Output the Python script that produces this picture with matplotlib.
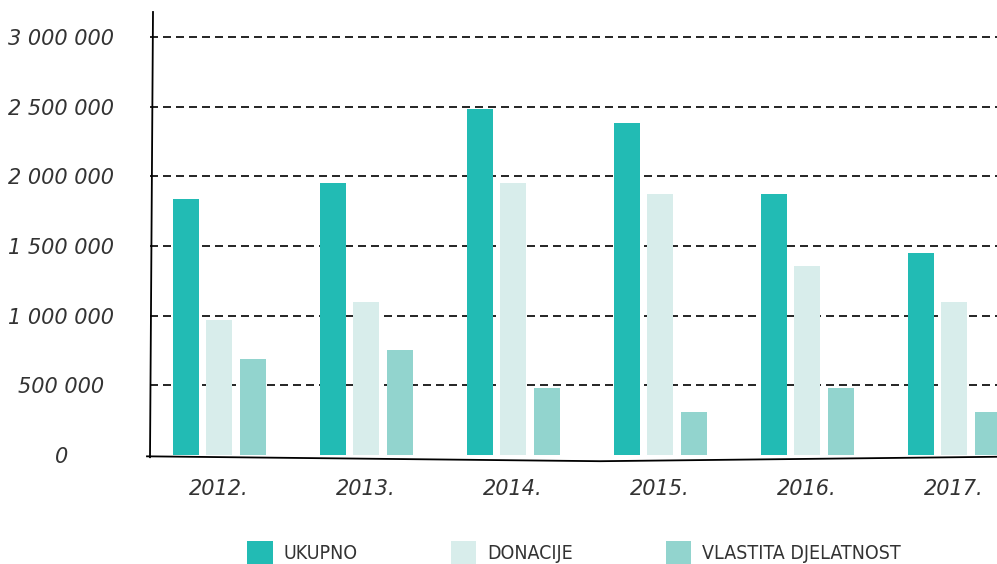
import numpy as np
import matplotlib; matplotlib.use("Agg"); import matplotlib.pyplot as plt
from matplotlib.patches import Patch

years = ["2012.", "2013.", "2014.", "2015.", "2016.", "2017."]
ukupno = [1838000, 1953000, 2484000, 2383000, 1874000, 1450000]
donacije = [969000, 1098000, 1953000, 1874000, 1357000, 1098000]
vlastita = [689000, 754000, 481000, 309000, 481000, 309000]
series_names = ["UKUPNO", "DONACIJE", "VLASTITA DJELATNOST"]
colors = ["#22bbb4", "#d8edeb", "#92d4ce"]
yticks = [0, 500000, 1000000, 1500000, 2000000, 2500000, 3000000]
ytick_labels = ["0", "500 000", "1 000 000", "1 500 000", "2 000 000", "2 500 000", "3 000 000"]

W, H = 997, 564
fig = plt.figure(figsize=(W/100, H/100), dpi=100)
ax = fig.add_axes([150/W, 1-455/H, 1-150/W, (455-12)/H])

x = np.arange(len(years))
bw, step = 26/147, 33.5/147
for k, (vals, c) in enumerate(zip([ukupno, donacije, vlastita], colors)):
    ax.bar(x + (k-1)*step, vals, width=bw, color=c, zorder=3)

ax.set_xlim((150-219)/147, (997-219)/147)
ax.set_ylim(0, (455-12)/139.3*1e6)
ax.set_yticks(yticks)
ax.set_yticklabels(ytick_labels)
ax.set_xticks(x)
ax.set_xticklabels(years)
ax.tick_params(axis="y", length=0, pad=64, labelsize=15, labelcolor="#333333")
ax.tick_params(axis="x", length=0, pad=17, labelsize=15, labelcolor="#333333")
for lab in ax.get_yticklabels():
    lab.set_ha("center"); lab.set_style("italic")
for lab in ax.get_xticklabels():
    lab.set_style("italic")
ax.yaxis.grid(True, color="black", lw=1.2, ls=(0, (4.8, 3)), zorder=1)
ax.yaxis.get_gridlines()[0].set_visible(False)
for s in ax.spines.values():
    s.set_visible(False)

# hand-drawn looking axis lines
ax.plot([3/847, 0], [1.0, -0.005], transform=ax.transAxes, color="black", lw=1.3, clip_on=False)
ax.plot([-3/847, 450/847, 1.0], [-0.003, -0.014, -0.004], transform=ax.transAxes,
        color="black", lw=1.3, clip_on=False)

handles = [Patch(facecolor=c, edgecolor="none") for c in colors]
fig.legend(handles, series_names, loc="center", bbox_to_anchor=(574/W, 1-553/H), ncol=3,
           frameon=False, prop={"family": "DejaVu Sans", "stretch": "condensed", "size": 14},
           handlelength=1.3, handleheight=1.45, handletextpad=0.55,
           columnspacing=4.8, labelcolor="#333333")

fig.savefig("out.png", dpi=100)
